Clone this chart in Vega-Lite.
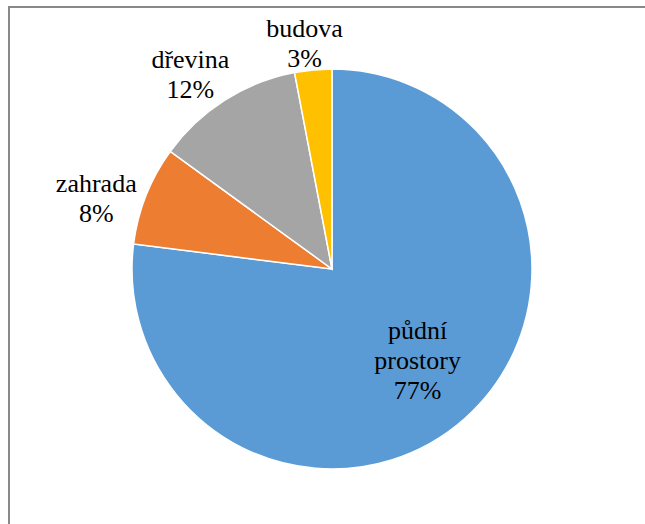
{
  "$schema": "https://vega.github.io/schema/vega-lite/v6.json",
  "width": 646,
  "height": 524,
  "autosize": {"type": "none"},
  "padding": {"left": 9, "top": 7, "right": 0, "bottom": 0},
  "background": "white",
  "view": {"stroke": "#898989", "strokeWidth": 2, "fill": "white"},
  "data": {
    "values": [
      {"cat": "půdní prostory", "value": 77, "rank": 1, "label": "půdní\nprostory\n77%"},
      {"cat": "zahrada", "value": 8, "rank": 2, "label": "zahrada\n8%"},
      {"cat": "dřevina", "value": 12, "rank": 3, "label": "dřevina\n12%"},
      {"cat": "budova", "value": 3, "rank": 4, "label": "budova\n3%"}
    ]
  },
  "encoding": {
    "theta": {"field": "value", "type": "quantitative", "stack": true},
    "order": {"field": "rank", "type": "quantitative"}
  },
  "layer": [
    {
      "mark": {"type": "arc", "outerRadius": 200, "stroke": "white", "strokeWidth": 1.5},
      "encoding": {
        "color": {
          "field": "cat", "type": "nominal", "legend": null,
          "scale": {
            "domain": ["půdní prostory", "zahrada", "dřevina", "budova"],
            "range": ["#5B9BD5", "#ED7D31", "#A5A5A5", "#FFC000"]
          }
        }
      }
    },
    {
      "mark": {"type": "text", "radius": 125, "dx": 3, "dy": -24, "baseline": "alphabetic", "align": "center", "lineBreak": "\n", "font": "Liberation Serif", "fontSize": 26, "lineHeight": 30, "color": "black"},
      "encoding": {"text": {"condition": {"test": "datum.cat === 'půdní prostory'", "field": "label"}, "value": ""}}
    },
    {
      "mark": {"type": "text", "radius": 246, "dx": -7, "dy": 14, "baseline": "alphabetic", "align": "center", "lineBreak": "\n", "font": "Liberation Serif", "fontSize": 26, "lineHeight": 30, "color": "black"},
      "encoding": {"text": {"condition": {"test": "datum.cat === 'zahrada'", "field": "label"}, "value": ""}}
    },
    {
      "mark": {"type": "text", "radius": 240, "dx": -13, "dy": 2, "baseline": "alphabetic", "align": "center", "lineBreak": "\n", "font": "Liberation Serif", "fontSize": 26, "lineHeight": 30, "color": "black"},
      "encoding": {"text": {"condition": {"test": "datum.cat === 'dřevina'", "field": "label"}, "value": ""}}
    },
    {
      "mark": {"type": "text", "radius": 228, "dx": -6, "dy": -5, "baseline": "alphabetic", "align": "center", "lineBreak": "\n", "font": "Liberation Serif", "fontSize": 26, "lineHeight": 30, "color": "black"},
      "encoding": {"text": {"condition": {"test": "datum.cat === 'budova'", "field": "label"}, "value": ""}}
    }
  ]
}
